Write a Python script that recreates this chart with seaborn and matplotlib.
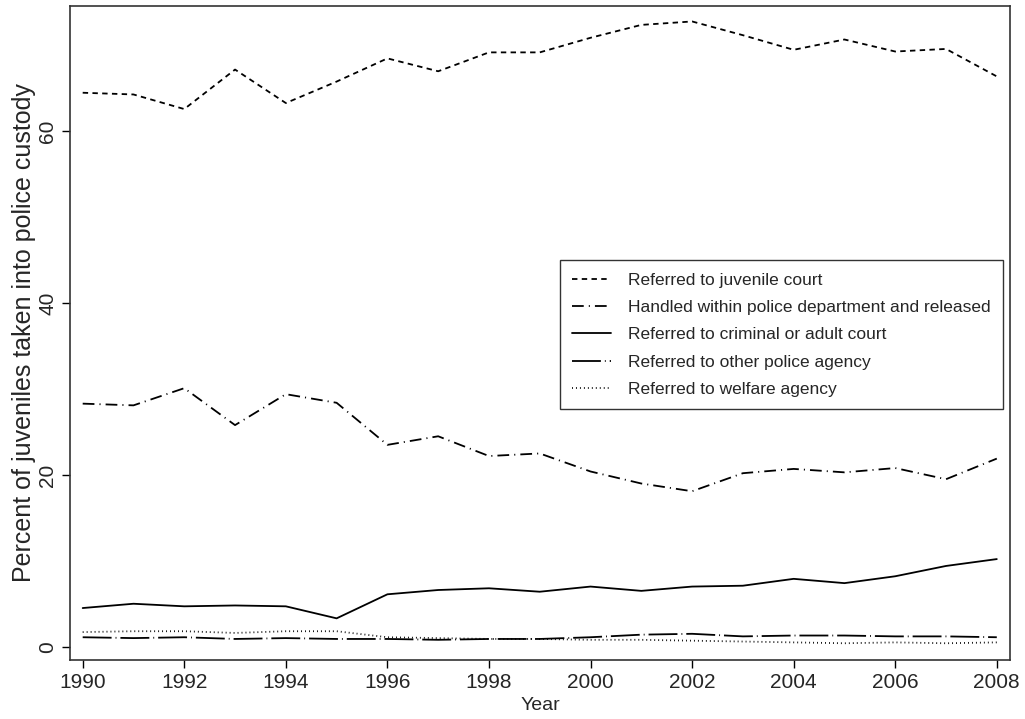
import matplotlib
matplotlib.use("Agg")
import matplotlib.pyplot as plt
import seaborn as sns
import pandas as pd

years = list(range(1990, 2009))

juvenile_court = [64.5, 64.3, 62.6, 67.2, 63.3, 65.8, 68.5, 67.0, 69.2, 69.2,
                  70.9, 72.4, 72.8, 71.2, 69.5, 70.7, 69.3, 69.6, 66.4]
handled_released = [28.3, 28.1, 30.1, 25.8, 29.4, 28.4, 23.5, 24.5, 22.2, 22.5,
                    20.4, 19.0, 18.1, 20.2, 20.7, 20.3, 20.8, 19.5, 21.9]
adult_court = [4.5, 5.0, 4.7, 4.8, 4.7, 3.3, 6.1, 6.6, 6.8, 6.4,
               7.0, 6.5, 7.0, 7.1, 7.9, 7.4, 8.2, 9.4, 10.2]
other_police = [1.1, 1.0, 1.1, 0.9, 1.0, 0.9, 0.9, 0.8, 0.9, 0.9,
                1.1, 1.4, 1.5, 1.2, 1.3, 1.3, 1.2, 1.2, 1.1]
welfare = [1.7, 1.8, 1.8, 1.6, 1.8, 1.8, 1.1, 1.0, 0.9, 0.9,
           0.8, 0.8, 0.7, 0.6, 0.5, 0.4, 0.5, 0.4, 0.5]

series_names = [
    "Referred to juvenile court",
    "Handled within police department and released",
    "Referred to criminal or adult court",
    "Referred to other police agency",
    "Referred to welfare agency",
]
series_values = [juvenile_court, handled_released, adult_court, other_police, welfare]

df = pd.concat(
    [pd.DataFrame({"Year": years, "Percent": vals, "Disposition": name})
     for name, vals in zip(series_names, series_values)],
    ignore_index=True,
)

sns.set_style("white")
plt.rcParams["font.family"] = ["Liberation Sans", "DejaVu Sans"]

dash_styles = {
    series_names[0]: (3, 2.4),
    series_names[1]: (6.5, 2.8, 0.6, 2.8),
    series_names[2]: "",
    series_names[3]: (16, 2.2, 0.5, 2.2),
    series_names[4]: (0.5, 1.7),
}

fig = plt.figure(figsize=(10.25, 7.19), dpi=100)
ax = fig.add_axes([70 / 1025, 59 / 719, 940 / 1025, 654 / 719])

sns.lineplot(
    data=df, x="Year", y="Percent", style="Disposition",
    style_order=series_names, dashes=dash_styles,
    color="black", linewidth=1.3, ax=ax,
)

ax.set_xlim(1989.75, 2008.26)
ax.set_ylim(-1.55, 74.6)
ax.set_xticks(range(1990, 2009, 2))
ax.set_yticks([0, 20, 40, 60])
ax.tick_params(axis="both", direction="out", length=6, width=1.0,
               color="black", labelsize=15, pad=3, left=True, bottom=True)
for lbl in ax.get_yticklabels():
    lbl.set_rotation(90)
    lbl.set_va("center")
for side in ["left", "bottom", "right", "top"]:
    ax.spines[side].set_color("#333333")
    ax.spines[side].set_linewidth(1.2)

ax.set_xlabel("Year", fontsize=14, labelpad=4)
ax.set_ylabel("Percent of juveniles taken into police custody",
              fontsize=18, labelpad=2)

leg = ax.legend(
    loc="upper right", bbox_to_anchor=(0.9926, 0.6116), borderaxespad=0,
    fontsize=12.5, frameon=True, fancybox=False, shadow=False,
    handlelength=2.2, handletextpad=1.0, labelspacing=0.7,
    borderpad=0.72, title=None,
)
leg.get_frame().set_edgecolor("black")
leg.get_frame().set_linewidth(1.0)
for line in leg.get_lines():
    line.set_linewidth(1.3)

fig.savefig("out.png", dpi=100)
